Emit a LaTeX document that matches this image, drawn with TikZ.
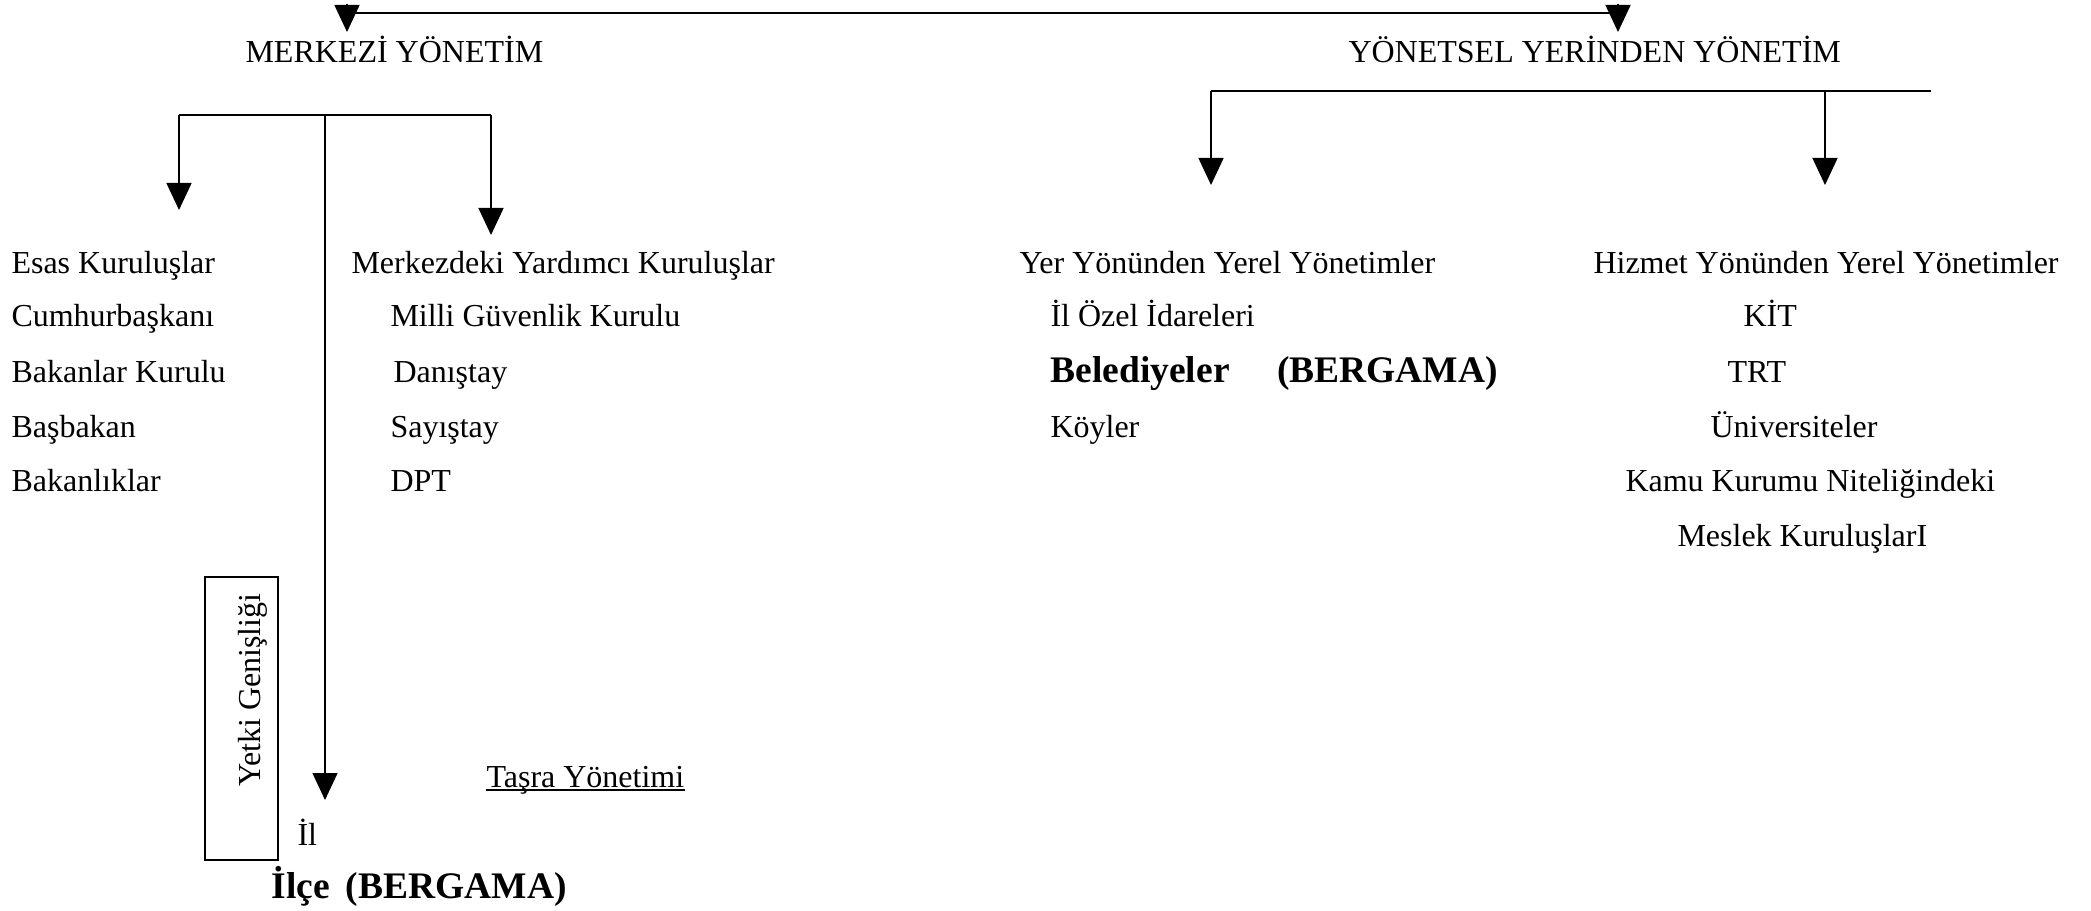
\documentclass[tikz,border=0pt]{standalone}
\usepackage{fontspec}
\setmainfont{Liberation Serif}
\usetikzlibrary{arrows.meta}

\begin{document}
\begin{tikzpicture}[x=0.4pt,y=-0.4pt,
  txt/.style={anchor=base west,inner sep=0pt,font=\fontsize{12.8}{15}\selectfont},
  big/.style={txt,font=\fontsize{15}{18}\selectfont\bfseries},
  bar/.style={line width=1pt},
  link/.style={line width=0.6pt,-{Triangle[length=10.8pt,width=10pt]}}]
\useasboundingbox (0,0) rectangle (2091,911);

% top level
\node[txt] (merk) at (245,63) {MERKEZİ YÖNETİM};
\node[txt] (yerinden) at (1348,63) {YÖNETSEL YERİNDEN YÖNETİM};
\coordinate (topL) at (347,13);
\coordinate (topR) at (1618,13);
\draw[bar] (topL) -- (topR);
\draw[link] ([yshift=3.6pt]topL) -- (topL |- 0,32);
\draw[link] ([yshift=3.6pt]topR) -- (topR |- 0,32);

% merkezi yonetim
\coordinate (mL) at (179,115);
\coordinate (mM) at (325,115);
\coordinate (mR) at (491,115);
\draw[bar] (mL) -- (mR);
\draw[link] (mL) -- (mL |- 0,210);
\draw[link] (mR) -- (mR |- 0,235);
\draw[link] (mM) -- (mM |- 0,800);

\node[txt] (esas) at (11,274) {Esas Kuruluşlar};
\node[txt] (cumhur) at (11,327) {Cumhurbaşkanı};
\node[txt] (bakkur) at (11,383) {Bakanlar Kurulu};
\node[txt] (basbakan) at (11,438) {Başbakan};
\node[txt] (bakanlik) at (11,492) {Bakanlıklar};

\node[txt] (yardimci) at (351,274) {Merkezdeki Yardımcı Kuruluşlar};
\node[txt] (mgk) at (390,327) {Milli Güvenlik Kurulu};
\node[txt] (danistay) at (393,383) {Danıştay};
\node[txt] (sayistay) at (390,438) {Sayıştay};
\node[txt] (dpt) at (390,492) {DPT};

% tasra
\draw[line width=1pt] (205,577) rectangle (278,860);
\node[font=\fontsize{12.8}{15}\selectfont,rotate=90,inner sep=0pt] (yetki) at (253,690) {Yetki Genişliği};
\node[txt] (il) at (297,845) {İl};
\node[txt] (tasra) at (486,787) {Taşra Yönetimi};
\draw[line width=0.5pt] ([yshift=-1.2pt]tasra.base west) -- ([yshift=-1.2pt]tasra.base east);
\node[big] (ilce) at (271,898) {İlçe\hspace{6.4pt}(BERGAMA)};

% yonetsel yerinden yonetim
\coordinate (yL) at (1211,91);
\coordinate (yM) at (1825,91);
\coordinate (yR) at (1931,91);
\draw[bar] (yL) -- (yR);
\draw[link] (yL) -- (yL |- 0,185);
\draw[link] (yM) -- (yM |- 0,185);

\node[txt] (yer) at (1019,274) {Yer Yönünden Yerel Yönetimler};
\node[txt] (ozel) at (1050,327) {İl Özel İdareleri};
\node[big] (belediye) at (1050,383) {Belediyeler\hspace{19pt}(BERGAMA)};
\node[txt] (koy) at (1050,438) {Köyler};

\node[txt] (hizmet) at (1593,274) {Hizmet Yönünden Yerel Yönetimler};
\node[txt] (kit) at (1743,327) {KİT};
\node[txt] (trt) at (1727,383) {TRT};
\node[txt] (univ) at (1710,438) {Üniversiteler};
\node[txt] (kamu) at (1625,492) {Kamu Kurumu Niteliğindeki};
\node[txt] (meslek) at (1677,546) {Meslek KuruluşlarI};
\end{tikzpicture}
\end{document}
